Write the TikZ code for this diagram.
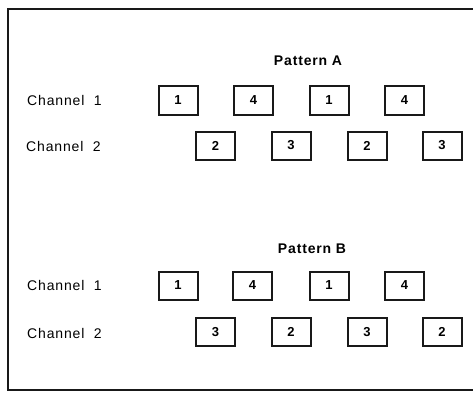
\documentclass[tikz,border=0pt]{standalone}
\usepackage{fontspec}
\setmainfont{Liberation Sans}
\newfontfamily\lblfont[LetterSpace=6]{Liberation Sans}
\begin{document}
\begin{tikzpicture}[x=1pt,y=-1pt,
  cell/.style={draw=black!90, line width=2pt, minimum width=39pt, minimum height=28pt, inner sep=0pt, font=\fontsize{13}{15}\selectfont\bfseries},
  chan/.style={anchor=west, inner sep=0pt, font=\lblfont\fontsize{14}{16}\selectfont},
  title/.style={inner sep=0pt, font=\lblfont\fontsize{14}{16}\selectfont\bfseries}]
\useasboundingbox (0,0) rectangle (473,393);
\draw[line width=2pt, black!90] (475,9) -- (8,9) -- (8,390) -- (475,390);
% Pattern A
\node[title] (pa) at (308,61) {Pattern A};
\node[chan] (a1) at (27,100) {Channel\ \ 1};
\node[chan] (a2) at (26,146) {Channel\ \ 2};
\node[cell] (a11) at (178,100.5) {1};
\node[cell] (a12) at (253.5,100.5) {4};
\node[cell] (a13) at (329,100.5) {1};
\node[cell] (a14) at (404.5,100.5) {4};
\node[cell] (a21) at (215.5,145.5) {2};
\node[cell] (a22) at (291,145.5) {3};
\node[cell] (a23) at (367,145.5) {2};
\node[cell] (a24) at (442,145.5) {3};
% Pattern B
\node[title] (pb) at (312,249) {Pattern B};
\node[chan] (b1) at (27,285) {Channel\ \ 1};
\node[chan] (b2) at (27,333) {Channel\ \ 2};
\node[cell] (b11) at (178,285.5) {1};
\node[cell] (b12) at (252.5,285.5) {4};
\node[cell] (b13) at (329,285.5) {1};
\node[cell] (b14) at (404.5,285.5) {4};
\node[cell] (b21) at (215.5,332) {3};
\node[cell] (b22) at (291,332) {2};
\node[cell] (b23) at (367,332) {3};
\node[cell] (b24) at (442,332) {2};
\end{tikzpicture}
\end{document}
